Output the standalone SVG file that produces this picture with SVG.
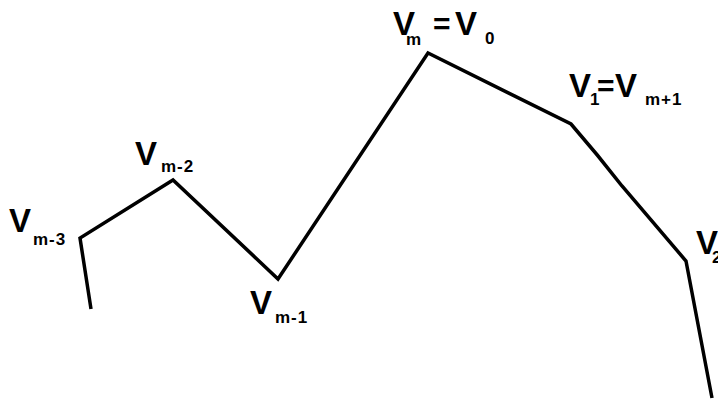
<svg xmlns="http://www.w3.org/2000/svg" width="718" height="407" viewBox="0 0 718 407">
<style>
.v{font-family:"Liberation Sans",Arial,sans-serif;font-weight:bold;font-size:33px;fill:#000}
.s{font-family:"Liberation Sans",Arial,sans-serif;font-weight:bold;font-size:17px;letter-spacing:1px;fill:#000}
.e{font-family:"Liberation Sans",Arial,sans-serif;font-weight:bold;font-size:30px;fill:#000}
.ln{fill:none;stroke:#000;stroke-width:3.5;stroke-linejoin:miter;stroke-linecap:butt}
</style>
<rect width="718" height="407" fill="#fff"/>
<g id="connectors">
<path class="ln" d="M91,309 L80,238 L173,180 L278,279 L428,53 L571,124 Q598,155 622,186 L686,261 L712,398"/>
</g>
<g id="v-m3"><text class="v" x="9" y="232">V</text><text class="s" x="33" y="245">m-3</text></g>
<g id="v-m2"><text class="v" x="135" y="165">V</text><text class="s" x="161" y="172">m-2</text></g>
<g id="v-m1"><text class="v" x="250" y="314">V</text><text class="s" x="275" y="323">m-1</text></g>
<g id="v-m"><text class="v" x="393" y="35">V</text><text class="s" x="406" y="45">m</text><text class="e" x="433" y="34">=</text><text class="v" x="455" y="35">V</text><text class="s" x="485" y="44">0</text></g>
<g id="v-1"><text class="v" x="569" y="97">V</text><text class="s" x="590" y="105">1</text><text class="e" x="597" y="96">=</text><text class="v" x="615" y="97">V</text><text class="s" x="645" y="105">m+1</text></g>
<g id="v-2"><text class="v" x="696" y="254">V</text><text class="s" x="712" y="263">2</text></g>
</svg>
